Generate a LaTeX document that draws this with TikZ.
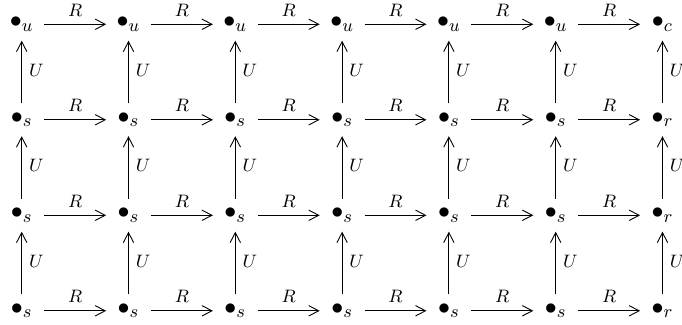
\documentclass[tikz,border=0pt]{standalone}
\usetikzlibrary{arrows.meta}
\begin{document}
\begin{tikzpicture}[x=0.5pt,y=-0.5pt,
  vtx/.style={inner sep=0pt, minimum width=22pt, minimum height=16pt, font=\fontsize{13}{15}\selectfont},
  arr/.style={-{Straight Barb[length=5pt,width=5.2pt]}, line width=0.45pt},
  lblR/.style={midway, yshift=7pt, inner sep=0pt, font=\fontsize{9.5}{11}\selectfont},
  lblU/.style={midway, xshift=7.3pt, yshift=1pt, inner sep=0pt, font=\fontsize{9.5}{11}\selectfont}]
\useasboundingbox (0,0) rectangle (682,325);
\foreach \r in {0,...,3}{
  \foreach \c in {0,...,6}{
    \pgfmathsetmacro\xx{21.7+106.8*\c}
    \pgfmathsetmacro\yy{24.3+95.5*\r}
    \ifnum\r=0
      \ifnum\c=6 \def\sub{c}\else\def\sub{u}\fi
    \else
      \ifnum\c=6 \def\sub{r}\else\def\sub{s}\fi
    \fi
    \node[vtx] (n\r\c) at (\xx,\yy) {$\bullet_{\sub}$};
  }
}
\foreach \r in {0,...,3}{
  \foreach \c [evaluate=\c as \d using int(\c+1)] in {0,...,5}{
    \draw[arr] (n\r\c) -- node[lblR]{$R$} (n\r\d);
  }
}
\foreach \r [evaluate=\r as \q using int(\r-1)] in {1,2,3}{
  \foreach \c in {0,...,6}{
    \draw[arr] (n\r\c) -- node[lblU]{$U$} (n\q\c);
  }
}
\end{tikzpicture}
\end{document}
